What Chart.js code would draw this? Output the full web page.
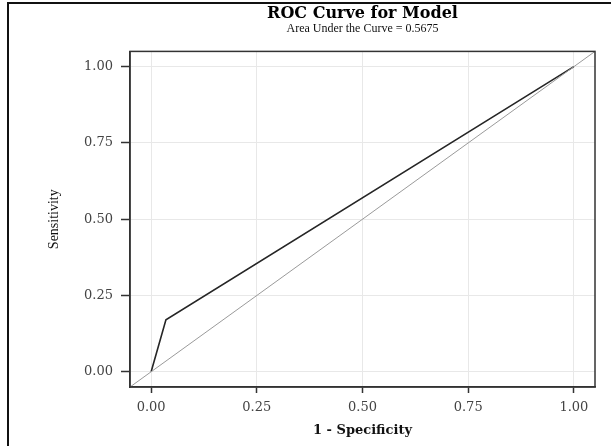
<!DOCTYPE html>
<html>
<head>
<meta charset="utf-8">
<script src="https://cdn.jsdelivr.net/npm/chart.js@4"></script>
<style>
  html, body { margin: 0; padding: 0; background: #fff; overflow: hidden; }
  #frame { position: absolute; left: 7px; top: 2px; width: 700px; height: 600px; border: 2px solid #111; }
  #wrap { position: absolute; left: 0; top: 0; width: 611px; height: 446px; }
</style>
</head>
<body>
<div id="frame"></div>
<div id="wrap"><canvas id="roc" width="611" height="446"></canvas></div>
<script>
// Data
const rocFpr = [0, 0.035, 1];
const rocTpr = [0, 0.17, 1];
const refLine = [-0.05, 1.05];
const tickValues = [0, 0.25, 0.5, 0.75, 1];
const axisMin = -0.05;
const axisMax = 1.05;

const serif = "'Liberation Serif', 'Times New Roman', serif";
const wideSerif = "'DejaVu Serif', 'Liberation Serif', serif";

// draws the box around the plot area
const boxPlugin = {
  id: 'box',
  afterDatasetsDraw(chart) {
    const { ctx, chartArea } = chart;
    ctx.save();
    ctx.strokeStyle = '#333';
    ctx.lineWidth = 1.5;
    ctx.strokeRect(chartArea.left, chartArea.top, chartArea.right - chartArea.left, chartArea.bottom - chartArea.top);
    ctx.restore();
  }
};

function setTicks(scale) {
  scale.ticks = tickValues.map(v => ({ value: v }));
}

const ctx = document.getElementById('roc').getContext('2d');
new Chart(ctx, {
  type: 'scatter',
  data: {
    datasets: [
      {
        label: 'Reference',
        data: refLine.map(v => ({ x: v, y: v })),
        showLine: true,
        borderColor: '#9a9a9a',
        borderWidth: 1,
        pointRadius: 0,
        order: 1
      },
      {
        label: 'ROC',
        data: rocFpr.map((x, i) => ({ x: x, y: rocTpr[i] })),
        showLine: true,
        borderColor: '#262626',
        borderWidth: 1.6,
        pointRadius: 0,
        order: 2
      }
    ]
  },
  options: {
    responsive: false,
    animation: false,
    devicePixelRatio: 1,
    layout: { padding: { left: 0, right: 16, top: 0, bottom: 0 } },
    plugins: {
      legend: { display: false },
      tooltip: { enabled: false },
      title: {
        display: true,
        text: 'ROC Curve for Model',
        fullSize: false,
        color: '#000',
        font: { family: wideSerif, size: 16, weight: 'bold', lineHeight: 1.0 },
        padding: { top: 6, bottom: 0 }
      },
      subtitle: {
        display: true,
        text: 'Area Under the Curve = 0.5675',
        fullSize: false,
        color: '#111',
        font: { family: serif, size: 12 },
        padding: { top: 0, bottom: 15 }
      }
    },
    scales: {
      x: {
        type: 'linear',
        min: axisMin,
        max: axisMax,
        afterBuildTicks: setTicks,
        afterFit(scale) { scale.height = 59; },
        border: { display: true, color: '#333', width: 1.5 },
        grid: { color: '#e8e8e8', lineWidth: 1, tickColor: '#333', tickLength: 6, tickWidth: 1.5 },
        ticks: {
          color: '#444',
          font: { family: wideSerif, size: 13 },
          padding: 7,
          maxRotation: 0,
          callback: v => v.toFixed(2)
        },
        title: {
          display: true,
          text: '1 - Specificity',
          color: '#111',
          font: { family: wideSerif, size: 13, weight: 'bold' },
          padding: { top: 8, bottom: 8 }
        }
      },
      y: {
        type: 'linear',
        min: axisMin,
        max: axisMax,
        afterBuildTicks: setTicks,
        afterFit(scale) { scale.width = 130; },
        border: { display: true, color: '#333', width: 1.5 },
        grid: { color: '#e8e8e8', lineWidth: 1, tickColor: '#333', tickLength: 9, tickWidth: 1.5 },
        ticks: {
          color: '#444',
          font: { family: wideSerif, size: 13 },
          padding: 8,
          callback: v => v.toFixed(2)
        },
        title: {
          display: true,
          text: 'Sensitivity',
          color: '#111',
          font: { family: serif, size: 14 },
          padding: { top: 46, bottom: 46 }
        }
      }
    }
  },
  plugins: [boxPlugin]
});
</script>
</body>
</html>
